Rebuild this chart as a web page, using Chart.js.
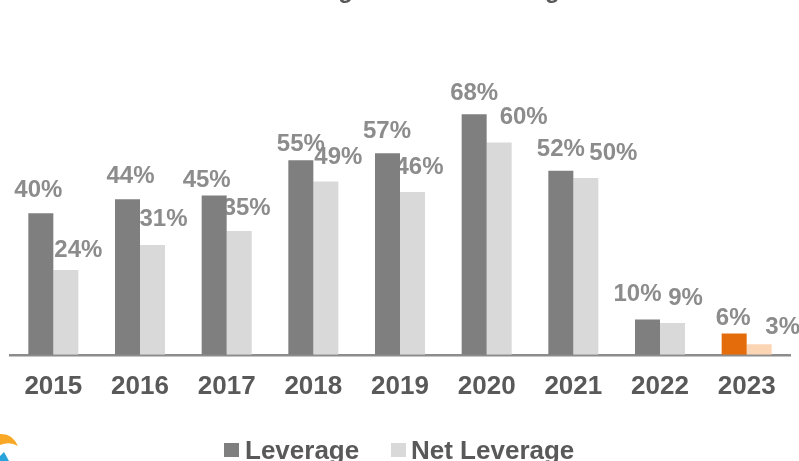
<!DOCTYPE html>
<html>
<head>
<meta charset="utf-8">
<title>Leverage and Net Leverage</title>
<script src="https://cdn.jsdelivr.net/npm/chart.js@4/dist/chart.umd.min.js"></script>
<style>
    html, body { margin: 0; padding: 0; background: #fff; overflow: hidden; }
    #wrap { width: 799px; height: 461px; }
    canvas { display: block; }
</style>
</head>
<body>
<div id="wrap"><canvas id="barLeverage" width="799" height="461"></canvas></div>
<script>
const years = ['2015', '2016', '2017', '2018', '2019', '2020', '2021', '2022', '2023'];
const leverage = [40, 44, 45, 55, 57, 68, 52, 10, 6];
const netLeverage = [24, 31, 35, 49, 46, 60, 50, 9, 3];

// Hand-placed value labels: shift from the bar's top centre, in pixels
const leverageLabelDx = [-2.5, 3, -7.5, 0, -0.5, 0, 0, -10, -1];
const leverageLabelDy = [23, 23, 15, 16, 22, 21, 21, 25, 15];
const netLabelDx = [12.5, 11, 7.5, 12.5, 7, 24.5, 27.5, 13, 23.5];
const netLabelDy = [20, 26, 23, 24, 24.5, 25, 25, 25, 16.5];

const latestYear = '2023';
const FONT = '"Liberation Sans", Arial, sans-serif';

function barColor(normal, latest) {
    return ctx => years[ctx.dataIndex] === latestYear ? latest : normal;
}

// Value labels go under the bars, the bars cover them where they touch
const valueLabels = {
    id: 'valueLabels',
    beforeDatasetsDraw(chart) {
        const ctx = chart.ctx;
        const shifts = [[leverageLabelDx, leverageLabelDy], [netLabelDx, netLabelDy]];
        ctx.save();
        ctx.font = 'bold 24px ' + FONT;
        ctx.fillStyle = '#8c8c8c';
        ctx.textAlign = 'center';
        ctx.textBaseline = 'middle';
        chart.data.datasets.forEach((dataset, i) => {
            chart.getDatasetMeta(i).data.forEach((bar, j) => {
                ctx.fillText(dataset.data[j] + '%', bar.x + shifts[i][0][j], bar.y - shifts[i][1][j]);
            });
        });
        ctx.restore();
    }
};

// Title, legend row and the corner logo
const pageParts = {
    id: 'pageParts',
    afterDraw(chart) {
        const ctx = chart.ctx;
        ctx.save();

        ctx.font = 'bold 24px ' + FONT;
        ctx.fillStyle = '#595959';
        ctx.textAlign = 'center';
        ctx.textBaseline = 'alphabetic';
        ctx.fillText('Leverage and Net Leverage', 417, -2);

        ctx.font = 'bold 26px ' + FONT;
        ctx.textAlign = 'left';
        ctx.fillStyle = '#7f7f7f';
        ctx.fillRect(224, 443, 15, 14);
        ctx.fillStyle = '#d9d9d9';
        ctx.fillRect(391, 443, 15, 14);
        ctx.fillStyle = '#595959';
        ctx.fillText(chart.data.datasets[0].label, 245, 459);
        ctx.fillText(chart.data.datasets[1].label, 411, 459);

        ctx.fillStyle = '#f9a825';
        ctx.beginPath();
        ctx.moveTo(0, 434);
        ctx.quadraticCurveTo(12, 433, 18, 446);
        ctx.quadraticCurveTo(10, 441, 0, 445);
        ctx.fill();
        ctx.fillStyle = '#29a3dc';
        ctx.beginPath();
        ctx.moveTo(0, 456);
        ctx.lineTo(4, 452);
        ctx.lineTo(9, 461);
        ctx.lineTo(0, 461);
        ctx.fill();

        ctx.restore();
    }
};

new Chart(document.getElementById('barLeverage').getContext('2d'), {
    type: 'bar',
    data: {
        labels: years,
        datasets: [{
            label: 'Leverage',
            data: leverage,
            backgroundColor: barColor('#7f7f7f', '#e46c0a')
        }, {
            label: 'Net Leverage',
            data: netLeverage,
            backgroundColor: barColor('#d9d9d9', '#fcd5b5')
        }]
    },
    options: {
        responsive: false,
        animation: false,
        layout: { padding: { left: 10, right: 9, top: 1, bottom: 51 } },
        datasets: { bar: { categoryPercentage: 0.577, barPercentage: 1 } },
        plugins: {
            legend: { display: false },
            tooltip: { enabled: false }
        },
        scales: {
            x: {
                grid: { display: false },
                border: { color: '#8c8c8c', width: 2.5 },
                ticks: {
                    color: '#595959',
                    font: { family: FONT, size: 26, weight: 'bold' },
                    padding: 8,
                    maxRotation: 0,
                    autoSkip: false
                }
            },
            y: { display: false, min: 0, max: 100 }
        }
    },
    plugins: [valueLabels, pageParts]
});
</script>
</body>
</html>
